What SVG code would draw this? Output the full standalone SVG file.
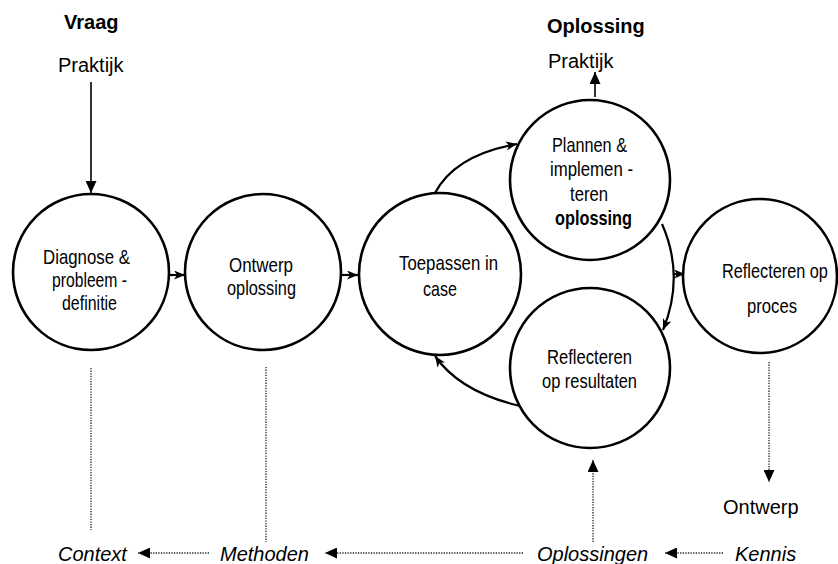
<svg xmlns="http://www.w3.org/2000/svg" width="838" height="564" viewBox="0 0 838 564">
<style>
.c{fill:#fff;stroke:#000;stroke-width:2.6}
.t{font-family:"Liberation Sans",Arial,sans-serif;font-size:21px;fill:#000}
.b{font-weight:bold}
.l{font-family:"Liberation Sans",Arial,sans-serif;font-size:20px;fill:#000}
.i{font-style:italic}
.s{fill:none;stroke:#000;stroke-width:1.6}
.cv{fill:none;stroke:#000;stroke-width:2.2}
.d{fill:none;stroke:#222;stroke-width:1.3;stroke-dasharray:1.3 1.3}
</style>
<defs>
<marker id="tri" markerUnits="userSpaceOnUse" markerWidth="12" markerHeight="11" refX="12" refY="5.5" orient="auto">
<path d="M0,0 L12,5.5 L0,11 z" fill="#000"/>
</marker>
<marker id="st" markerUnits="userSpaceOnUse" markerWidth="11" markerHeight="9" refX="11" refY="4.5" orient="auto">
<path d="M0,0 L11,4.5 L0,9 L3,4.5 z" fill="#000"/>
</marker>
</defs>

<g id="labels">
<text class="l b" x="64" y="29">Vraag</text>
<text class="l" x="58" y="72">Praktijk</text>
<text class="l b" x="547" y="33">Oplossing</text>
<text class="l" x="548" y="68">Praktijk</text>
<text class="l" x="723" y="514">Ontwerp</text>
<text class="l i" x="58" y="561">Context</text>
<text class="l i" x="220" y="561">Methoden</text>
<text class="l i" x="537" y="561">Oplossingen</text>
<text class="l i" x="735" y="561">Kennis</text>
</g>

<g id="connectors">
<line class="s" x1="91" y1="82" x2="91" y2="193" marker-end="url(#tri)"/>
<line class="s" x1="595" y1="97" x2="595" y2="72" marker-end="url(#tri)"/>
<line class="cv" x1="168" y1="275" x2="185" y2="275" marker-end="url(#st)"/>
<line class="cv" x1="341" y1="275" x2="358" y2="275" marker-end="url(#st)"/>
<path class="cv" d="M435,193 Q455,155 517,144" marker-end="url(#st)"/>
<path class="cv" d="M662,224 Q685,276 663,330" marker-end="url(#st)"/>
<line class="cv" x1="673" y1="274" x2="685" y2="274" marker-end="url(#st)"/>
<path class="cv" d="M520,406 Q460,392 435,356" marker-end="url(#st)"/>
<line class="d" x1="91" y1="368" x2="91" y2="530"/>
<line class="d" x1="266" y1="367" x2="266" y2="542"/>
<line class="d" x1="593" y1="542" x2="593" y2="460" marker-end="url(#tri)"/>
<line class="d" x1="769" y1="362" x2="769" y2="482" marker-end="url(#tri)"/>
<line class="d" x1="209" y1="553" x2="138" y2="553" marker-end="url(#tri)"/>
<line class="d" x1="523" y1="553" x2="325" y2="553" marker-end="url(#tri)"/>
<line class="d" x1="723" y1="553" x2="665" y2="553" marker-end="url(#tri)"/>
</g>

<g id="diagnose">
<circle class="c" cx="91" cy="272" r="78"/>
<text class="t" x="43" y="264" textLength="87" lengthAdjust="spacingAndGlyphs">Diagnose &amp;</text>
<text class="t" x="52" y="287" textLength="75" lengthAdjust="spacingAndGlyphs">probleem -</text>
<text class="t" x="62" y="310" textLength="55" lengthAdjust="spacingAndGlyphs">definitie</text>
</g>

<g id="ontwerp">
<circle class="c" cx="263" cy="272" r="78"/>
<text class="t" x="229" y="272" textLength="64" lengthAdjust="spacingAndGlyphs">Ontwerp</text>
<text class="t" x="227" y="295" textLength="69" lengthAdjust="spacingAndGlyphs">oplossing</text>
</g>

<g id="toepassen">
<circle class="c" cx="440" cy="274" r="81"/>
<text class="t" x="399" y="270" textLength="99" lengthAdjust="spacingAndGlyphs">Toepassen in</text>
<text class="t" x="423" y="296" textLength="34" lengthAdjust="spacingAndGlyphs">case</text>
</g>

<g id="plannen">
<circle class="c" cx="590" cy="180" r="80"/>
<text class="t" x="552" y="152" textLength="75" lengthAdjust="spacingAndGlyphs">Plannen &amp;</text>
<text class="t" x="550" y="176" textLength="83" lengthAdjust="spacingAndGlyphs">implemen -</text>
<text class="t" x="570" y="201" textLength="38" lengthAdjust="spacingAndGlyphs">teren</text>
<text class="t b" x="555" y="225" textLength="77" lengthAdjust="spacingAndGlyphs">oplossing</text>
</g>

<g id="resultaten">
<circle class="c" cx="590" cy="368" r="80"/>
<text class="t" x="547" y="364" textLength="85" lengthAdjust="spacingAndGlyphs">Reflecteren</text>
<text class="t" x="542" y="388" textLength="95" lengthAdjust="spacingAndGlyphs">op resultaten</text>
</g>

<g id="proces">
<circle class="c" cx="760" cy="276" r="77"/>
<text class="t" transform="translate(722,278) scale(0.776,1)" x="0" y="0">Reflecteren op</text>
<text class="t" x="747" y="313" textLength="50" lengthAdjust="spacingAndGlyphs">proces</text>
</g>
</svg>
